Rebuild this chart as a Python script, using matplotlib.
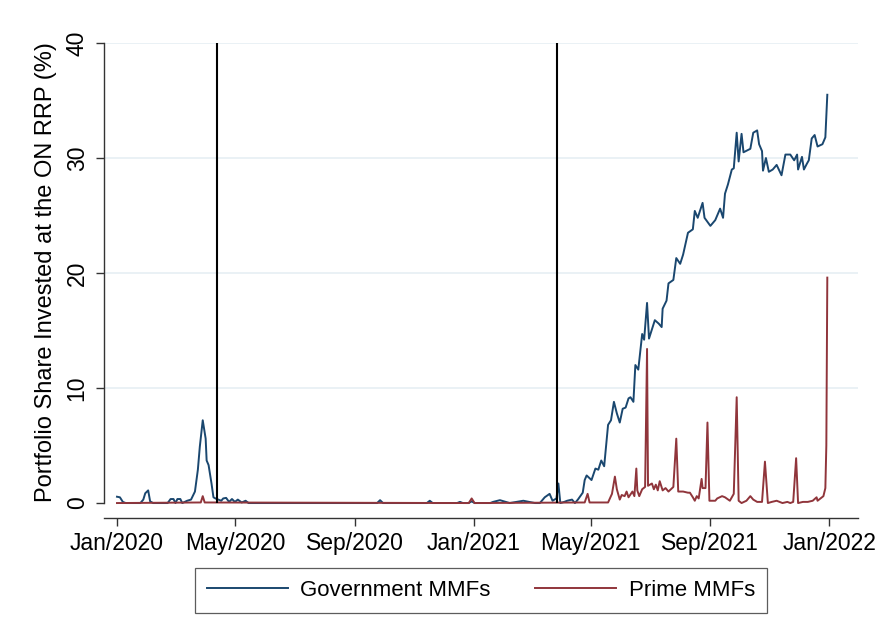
import matplotlib
matplotlib.use('Agg')
import matplotlib.pyplot as plt
import matplotlib.dates as mdates
import pandas as pd

plt.rcParams['font.family'] = ['Liberation Sans', 'DejaVu Sans']

# Government MMFs: share of portfolio at the ON RRP (%)
gov_dates = [
    '2020-01-01', '2020-01-04', '2020-01-07', '2020-01-10', '2020-01-25', '2020-01-28',
    '2020-01-30', '2020-02-02', '2020-02-04', '2020-02-07', '2020-02-22', '2020-02-25',
    '2020-02-28', '2020-03-01', '2020-03-03', '2020-03-06', '2020-03-08', '2020-03-13',
    '2020-03-17', '2020-03-21', '2020-03-24', '2020-03-26', '2020-03-29', '2020-04-01',
    '2020-04-02', '2020-04-04', '2020-04-07', '2020-04-09', '2020-04-11', '2020-04-14',
    '2020-04-17', '2020-04-19', '2020-04-22', '2020-04-25', '2020-04-28', '2020-05-01',
    '2020-05-04', '2020-05-08', '2020-05-12', '2020-05-15', '2020-09-24', '2020-09-27',
    '2020-09-30', '2020-11-14', '2020-11-17', '2020-11-20', '2020-12-15', '2020-12-18',
    '2020-12-21', '2020-12-27', '2020-12-30', '2021-01-02', '2021-01-18', '2021-01-21',
    '2021-01-28', '2021-02-07', '2021-02-21', '2021-03-05', '2021-03-10', '2021-03-15',
    '2021-03-20', '2021-03-23', '2021-03-27', '2021-03-29', '2021-03-31', '2021-04-04',
    '2021-04-07', '2021-04-12', '2021-04-15', '2021-04-18', '2021-04-23', '2021-04-25',
    '2021-04-27', '2021-05-02', '2021-05-06', '2021-05-09', '2021-05-12', '2021-05-15',
    '2021-05-19', '2021-05-22', '2021-05-25', '2021-05-28', '2021-05-31', '2021-06-03',
    '2021-06-06', '2021-06-09', '2021-06-11', '2021-06-14', '2021-06-16', '2021-06-19',
    '2021-06-23', '2021-06-25', '2021-06-28', '2021-06-30', '2021-07-03', '2021-07-06',
    '2021-07-10', '2021-07-13', '2021-07-14', '2021-07-18', '2021-07-20', '2021-07-25',
    '2021-07-28', '2021-08-01', '2021-08-04', '2021-08-09', '2021-08-14', '2021-08-16',
    '2021-08-19', '2021-08-24', '2021-08-26', '2021-09-01', '2021-09-06', '2021-09-11',
    '2021-09-14', '2021-09-16', '2021-09-19', '2021-09-23', '2021-09-25', '2021-09-28',
    '2021-09-30', '2021-10-03', '2021-10-05', '2021-10-12', '2021-10-15', '2021-10-19',
    '2021-10-21', '2021-10-24', '2021-10-25', '2021-10-28', '2021-10-31', '2021-11-04',
    '2021-11-08', '2021-11-13', '2021-11-17', '2021-11-22', '2021-11-26', '2021-11-29',
    '2021-11-30', '2021-12-04', '2021-12-06', '2021-12-09', '2021-12-11', '2021-12-14',
    '2021-12-17', '2021-12-20', '2021-12-25', '2021-12-28', '2021-12-30',
]
gov_values = [
    0.55, 0.5, 0.1, 0.0, 0.0, 0.3,
    0.85, 1.1, 0.15, 0.0, 0.0, 0.35,
    0.35, 0.0, 0.35, 0.35, 0.0, 0.2,
    0.3, 1.0, 2.9, 4.9, 7.2, 5.6,
    3.7, 3.3, 1.7, 0.5, 0.4, 0.3,
    0.2, 0.4, 0.45, 0.1, 0.35, 0.1,
    0.3, 0.05, 0.2, 0.0, 0.0, 0.25,
    0.0, 0.0, 0.2, 0.0, 0.0, 0.1,
    0.0, 0.0, 0.15, 0.0, 0.0, 0.1,
    0.25, 0.0, 0.2, 0.0, 0.0, 0.5,
    0.8, 0.2, 0.4, 1.7, 0.0, 0.1,
    0.2, 0.3, 0.0, 0.3, 0.9, 2.0,
    2.4, 2.0, 3.0, 2.9, 3.7, 3.2,
    6.8, 7.2, 8.8, 7.8, 7.0, 8.2,
    8.3, 9.1, 9.2, 8.8, 12.0, 11.6,
    14.7, 14.2, 17.4, 14.3, 15.1, 15.9,
    15.6, 15.3, 16.9, 17.6, 19.1, 19.4,
    21.3, 20.8, 21.6, 23.5, 23.8, 25.4,
    24.8, 26.1, 24.8, 24.1, 24.6, 25.6,
    24.8, 26.9, 27.7, 29.0, 29.1, 32.2,
    29.7, 32.1, 30.5, 30.8, 32.2, 32.4,
    31.2, 30.6, 28.9, 30.0, 28.8, 29.0,
    29.4, 28.5, 30.3, 30.3, 29.8, 30.3,
    29.0, 30.1, 29.0, 29.5, 29.8, 31.7,
    32.0, 31.0, 31.2, 31.8, 35.5,
]

# Prime MMFs
prime_dates = [
    '2020-01-01', '2020-03-27', '2020-03-29', '2020-03-31', '2020-12-27', '2020-12-30',
    '2021-01-02', '2021-04-25', '2021-04-28', '2021-04-30', '2021-05-19', '2021-05-23',
    '2021-05-26', '2021-05-28', '2021-05-31', '2021-06-02', '2021-06-05', '2021-06-07',
    '2021-06-09', '2021-06-13', '2021-06-15', '2021-06-17', '2021-06-18', '2021-06-20',
    '2021-06-23', '2021-06-26', '2021-06-28', '2021-06-29', '2021-07-03', '2021-07-05',
    '2021-07-07', '2021-07-09', '2021-07-11', '2021-07-14', '2021-07-17', '2021-07-20',
    '2021-07-25', '2021-07-28', '2021-07-30', '2021-08-04', '2021-08-09', '2021-08-11',
    '2021-08-14', '2021-08-16', '2021-08-18', '2021-08-20', '2021-08-23', '2021-08-24',
    '2021-08-27', '2021-08-29', '2021-08-31', '2021-09-06', '2021-09-08', '2021-09-13',
    '2021-09-16', '2021-09-21', '2021-09-25', '2021-09-28', '2021-09-30', '2021-10-03',
    '2021-10-08', '2021-10-12', '2021-10-15', '2021-10-19', '2021-10-24', '2021-10-27',
    '2021-10-30', '2021-11-03', '2021-11-08', '2021-11-11', '2021-11-14', '2021-11-19',
    '2021-11-22', '2021-11-25', '2021-11-28', '2021-11-30', '2021-12-05', '2021-12-10',
    '2021-12-15', '2021-12-19', '2021-12-20', '2021-12-23', '2021-12-26', '2021-12-28',
    '2021-12-29', '2021-12-30',
]
prime_values = [
    0.0, 0.05, 0.6, 0.05, 0.0, 0.4,
    0.0, 0.05, 0.8, 0.05, 0.05, 0.8,
    2.3, 1.2, 0.3, 0.7, 0.6, 1.0,
    0.5, 1.0, 0.6, 3.0, 1.1, 0.6,
    1.2, 1.4, 13.4, 1.5, 1.7, 1.2,
    1.6, 1.1, 1.9, 1.1, 1.3, 1.0,
    1.4, 5.6, 1.0, 1.0, 0.9, 0.9,
    0.5, 0.2, 0.6, 0.4, 2.1, 1.3,
    1.3, 7.0, 0.2, 0.2, 0.4, 0.6,
    0.5, 0.2, 0.8, 9.2, 0.2, 0.0,
    0.2, 0.6, 0.3, 0.1, 0.1, 3.6,
    0.0, 0.1, 0.2, 0.1, 0.0, 0.1,
    0.0, 0.1, 3.9, 0.0, 0.1, 0.1,
    0.2, 0.5, 0.2, 0.4, 0.6, 1.3,
    5.0, 19.6,
]

# policy dates marked with vertical lines
event_dates = ['2020-04-13', '2021-03-28']

x_ticks = ['2020-01-01', '2020-05-01', '2020-09-01', '2021-01-01',
           '2021-05-01', '2021-09-01', '2022-01-01']
y_ticks = [0, 10, 20, 30, 40]

GOV_COLOR = '#1a476f'
PRIME_COLOR = '#90353b'
AXIS_COLOR = '#333333'

fig = plt.figure(figsize=(8.81, 6.39), dpi=100)
ax = fig.add_axes([104 / 881, 121 / 639, 754 / 881, 475 / 639])

for y in y_ticks[1:]:
    ax.axhline(y, color='#e6eff3', lw=1.2, zorder=0)

ax.vlines(pd.to_datetime(event_dates), 0, 40, color='black', lw=1.5, zorder=3)

ax.plot(pd.to_datetime(gov_dates), gov_values, color=GOV_COLOR, lw=1.4,
        label='Government MMFs', zorder=2)
ax.plot(pd.to_datetime(prime_dates), prime_values, color=PRIME_COLOR, lw=1.4,
        label='Prime MMFs', zorder=2)

ax.set_xlim(pd.Timestamp('2019-12-18 16:00'), pd.Timestamp('2022-01-30 12:00'))
ax.set_ylim(-1.3, 40)

ax.set_xticks(pd.to_datetime(x_ticks))
ax.xaxis.set_major_formatter(mdates.DateFormatter('%b/%Y'))
ax.set_yticks(y_ticks)
for lab in ax.get_yticklabels():
    lab.set_rotation(90)
    lab.set_va('center')

for side in ['top', 'right']:
    ax.spines[side].set_visible(False)
ax.spines['left'].set_bounds(0, 40)
for side in ['left', 'bottom']:
    ax.spines[side].set_color(AXIS_COLOR)
    ax.spines[side].set_linewidth(1.0)

ax.tick_params(axis='both', direction='out', length=6, width=1.0,
               color=AXIS_COLOR, labelsize=16.5)
ax.tick_params(axis='x', pad=4)
ax.tick_params(axis='y', pad=5)

ax.set_ylabel('Portfolio Share Invested at the ON RRP (%)', fontsize=17)
ax.yaxis.set_label_coords(-0.062, 0.518)

leg = ax.legend(loc='upper center', bbox_to_anchor=(0.5, -0.105), ncol=2,
                fontsize=16, frameon=True, fancybox=False, handlelength=3.65,
                handletextpad=0.55, columnspacing=2.0, borderpad=0.55,
                borderaxespad=0)
leg.get_frame().set_edgecolor(AXIS_COLOR)
leg.get_frame().set_linewidth(0.9)

fig.savefig('out.png', dpi=100, facecolor='white')
